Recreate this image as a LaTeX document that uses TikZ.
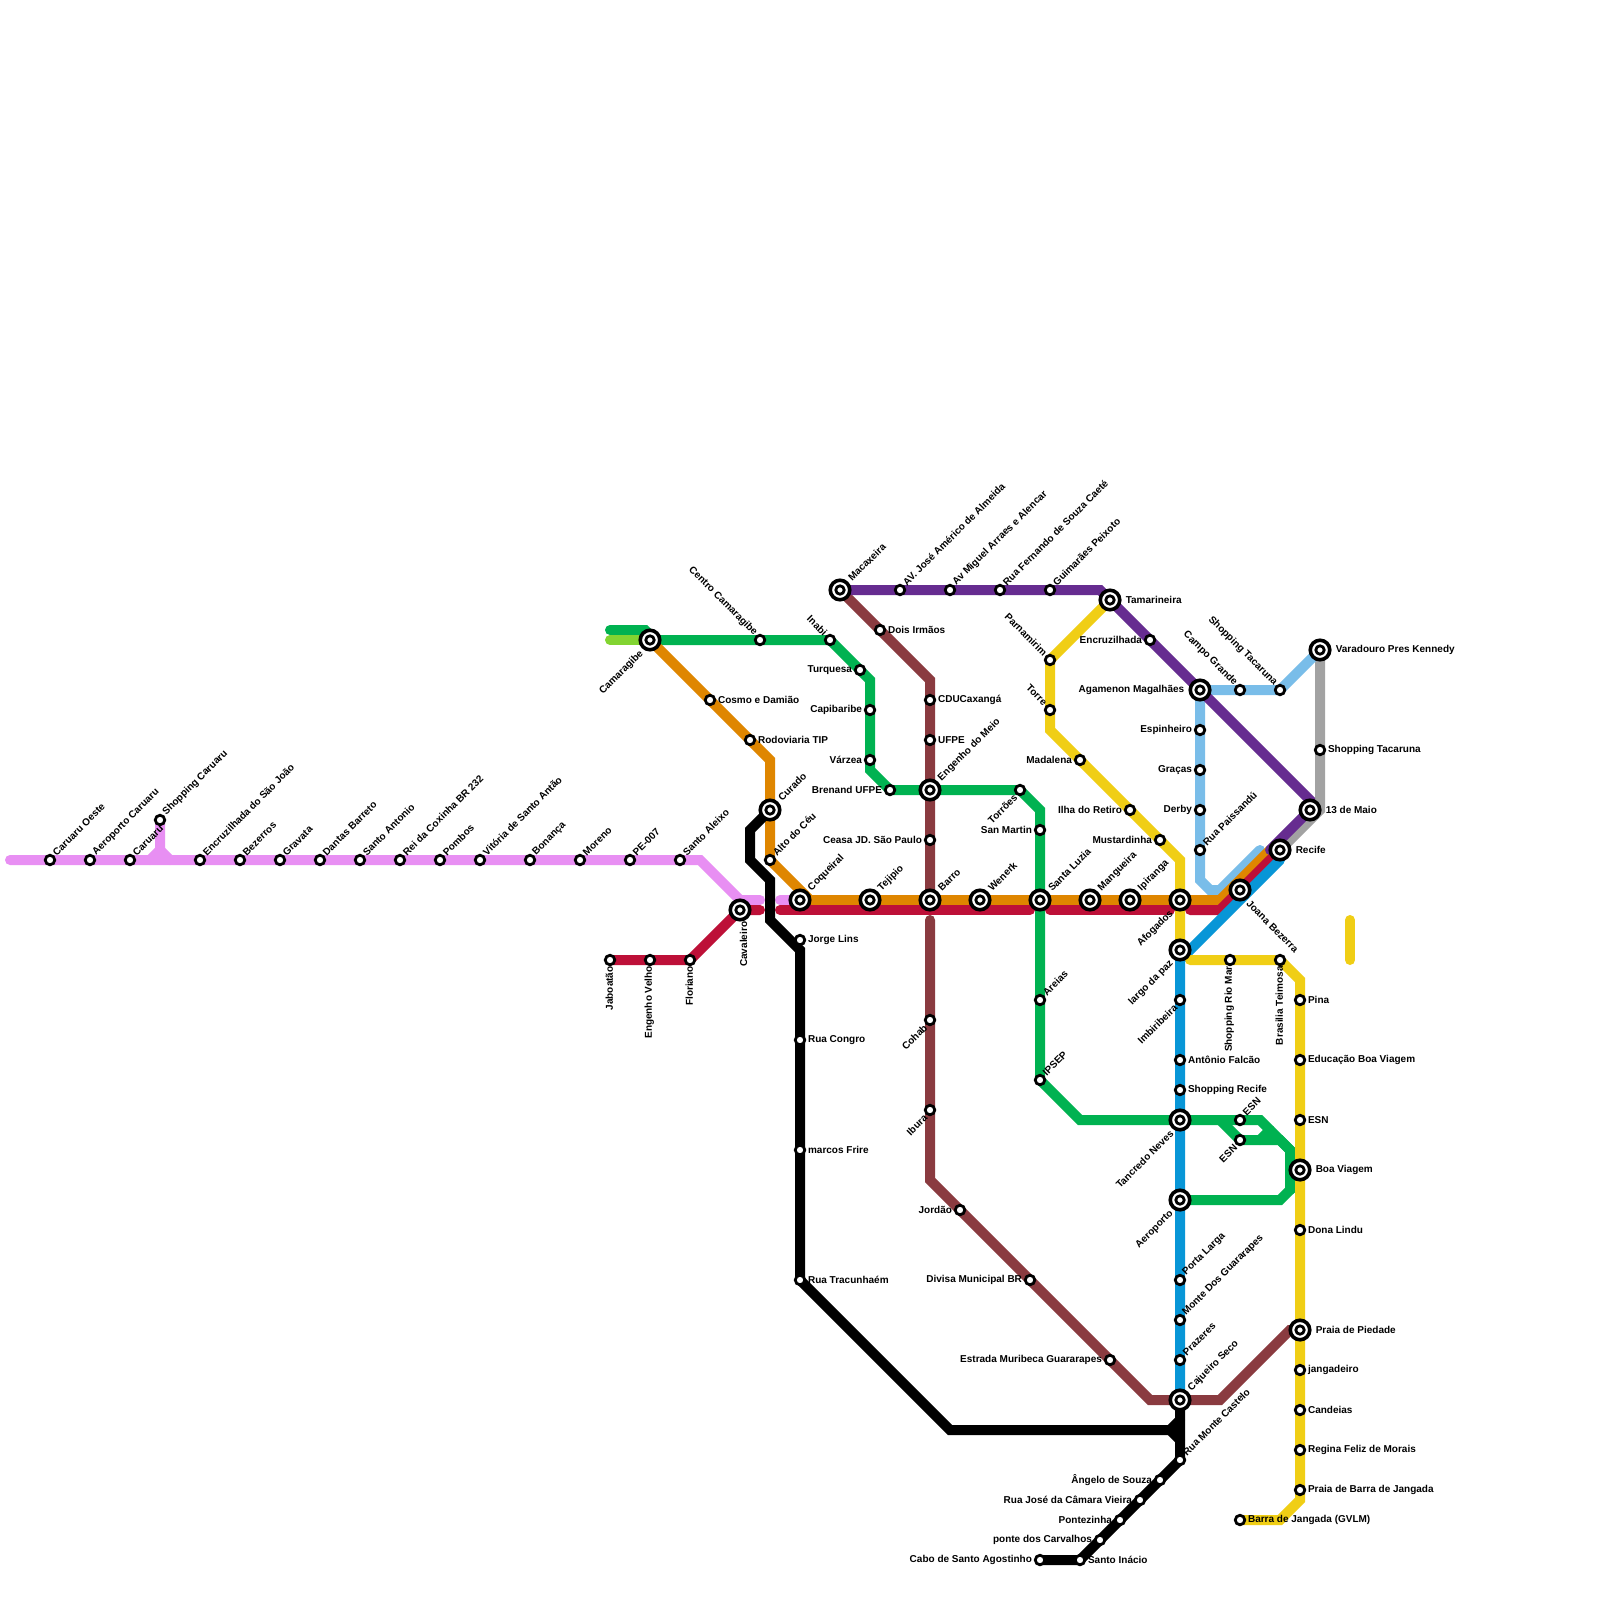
\documentclass[tikz,border=0pt]{standalone}
\usepackage{fontspec}
\setmainfont{Liberation Sans}
\usetikzlibrary{backgrounds}
\definecolor{pinkline}{HTML}{E88FF3}
\definecolor{greenline}{HTML}{00B251}
\definecolor{limeline}{HTML}{82D431}
\definecolor{orangeline}{HTML}{DF8600}
\definecolor{redline}{HTML}{BD1038}
\definecolor{brownline}{HTML}{8A3B40}
\definecolor{purpleline}{HTML}{662C90}
\definecolor{grayline}{HTML}{A2A2A2}
\definecolor{skyline}{HTML}{79BDE9}
\definecolor{blueline}{HTML}{0896D7}
\definecolor{yellowline}{HTML}{F0CE15}
\tikzset{
  lbl/.style={font=\fontsize{10}{12}\selectfont\bfseries, inner sep=0pt, label distance=1.7pt},
  lblne/.style={lbl, rotate=45, anchor=west},
  lblse/.style={lbl, rotate=-45, anchor=west},
  lblnw/.style={lbl, rotate=-45, anchor=east},
  lblsw/.style={lbl, rotate=45, anchor=east},
  lblr/.style={lbl, anchor=west},
  lbll/.style={lbl, anchor=east},
  lbld/.style={lbl, xshift=-2.5pt, rotate=90, anchor=east},
  far/.style={label distance=4pt},
  ne/.style={label={[lblne]45:#1}},
  se/.style={label={[lblse]-45:#1}},
  nw/.style={label={[lblnw]135:#1}},
  sw/.style={label={[lblsw]225:#1}},
  rt/.style={label={[lblr]0:#1}},
  lf/.style={label={[lbll]180:#1}},
  dn/.style={label={[lbld]270:#1}},
  xne/.style={label={[xshift=1.5pt, yshift=-1.5pt, lblne, far]45:#1}},
  xse/.style={label={[lblse, far]-45:#1}},
  xsw/.style={label={[lblsw, far]225:#1}},
  xrt/.style={label={[lblr, far]0:#1}},
  xlf/.style={label={[lbll, far]180:#1}},
  xdn/.style={label={[xshift=-2pt, lbld, label distance=8pt]270:#1}},
  stn/.style={circle, draw=black, fill=white, line width=2.8pt, minimum size=9.5pt, inner sep=0pt},
  xstn/.style={circle, draw=black, fill=white, line width=3.6pt, minimum size=19.5pt, inner sep=0pt,
    path picture={\draw[black, line width=2.8pt] (path picture bounding box.center) circle (4.2pt);}},
  metro/.style={line width=10pt, line cap=round, line join=miter},
}
\begin{document}
\begin{tikzpicture}[x=1pt, y=-1pt]
    \useasboundingbox (0,0) rectangle (1600,1600);

    % linha rosa
    \node[stn, ne={Caruaru Oeste}] (caruaruoeste) at (50,860) {};
    \node[stn, ne={Aeroporto Caruaru}] (aeroportocaruaru) at (90,860) {};
    \node[stn, ne={Caruaru}] (caruaru) at (130,860) {};
    \node[stn, ne={Shopping Caruaru}] (shopcaruaru) at (160,820) {};
    \node[stn, ne={Encruzilhada do São João}] (encsaojoao) at (200,860) {};
    \node[stn, ne={Bezerros}] (bezerros) at (240,860) {};
    \node[stn, ne={Gravata}] (gravata) at (280,860) {};
    \node[stn, ne={Dantas Barreto}] (dantas) at (320,860) {};
    \node[stn, ne={Santo Antonio}] (santoantonio) at (360,860) {};
    \node[stn, ne={Rei da Coxinha BR 232}] (reicoxinha) at (400,860) {};
    \node[stn, ne={Pombos}] (pombos) at (440,860) {};
    \node[stn, ne={Vitória de Santo Antão}] (vitoria) at (480,860) {};
    \node[stn, ne={Bonança}] (bonanca) at (530,860) {};
    \node[stn, ne={Moreno}] (moreno) at (580,860) {};
    \node[stn, ne={PE-007}] (pe007) at (630,860) {};
    \node[stn, ne={Santo Aleixo}] (santoaleixo) at (680,860) {};

    % linha vermelha
    \node[stn, dn={Jaboatão}] (jaboatao) at (610,960) {};
    \node[stn, dn={Engenho Velho}] (engvelho) at (650,960) {};
    \node[stn, dn={Floriano}] (floriano) at (690,960) {};
    \node[xstn, xdn={Cavaleiro}] (cavaleiro) at (740,910) {};

    % linha laranja
    \node[xstn, xsw={Camaragibe}] (camaragibe) at (650,640) {};
    \node[stn, rt={Cosmo e Damião}] (cosmo) at (710,700) {};
    \node[stn, rt={Rodoviaria TIP}] (rodoviaria) at (750,740) {};
    \node[xstn, xne={Curado}] (curado) at (770,810) {};
    \node[stn, ne={Alto do Céu}] (altoceu) at (770,860) {};
    \node[xstn, xne={Coqueiral}] (coqueiral) at (800,900) {};
    \node[xstn, xne={Tejipio}] (tejipio) at (870,900) {};
    \node[xstn, xne={Barro}] (barro) at (930,900) {};
    \node[xstn, xne={Wenerk}] (wenerk) at (980,900) {};
    \node[xstn, xne={Santa Luzia}] (santaluzia) at (1040,900) {};
    \node[xstn, xne={Mangueira}] (mangueira) at (1090,900) {};
    \node[xstn, xne={Ipiranga}] (ipiranga) at (1130,900) {};
    \node[xstn, xsw={Afogados}] (afogados) at (1180,900) {};
    \node[xstn, xse={Joana Bezerra}] (joana) at (1240,890) {};
    \node[xstn, xrt={Recife}] (recife) at (1280,850) {};

    % linha verde
    \node[stn, nw={Centro Camaragibe}] (centrocam) at (760,640) {};
    \node[stn, nw={Inabi}] (inabi) at (830,640) {};
    \node[stn, lf={Turquesa}] (turquesa) at (860,670) {};
    \node[stn, lf={Capibaribe}] (capibaribe) at (870,710) {};
    \node[stn, lf={Várzea}] (varzea) at (870,760) {};
    \node[stn, lf={Brenand UFPE}] (brenand) at (890,790) {};
    \node[xstn, xne={Engenho do Meio}] (engmeio) at (930,790) {};
    \node[stn, sw={Torrões}] (torroes) at (1020,790) {};
    \node[stn, lf={San Martin}] (sanmartin) at (1040,830) {};
    \node[stn, ne={Areias}] (areias) at (1040,1000) {};
    \node[stn, ne={IPSEP}] (ipsep) at (1040,1080) {};
    \node[xstn, xsw={Tancredo Neves}] (tancredo) at (1180,1120) {};
    \node[stn, ne={ESN}] (esnup) at (1240,1120) {};
    \node[stn, sw={ESN}] (esnlow) at (1240,1140) {};
    \node[xstn, xsw={Aeroporto}] (aeroporto) at (1180,1200) {};

    % linha preta
    \node[stn, rt={Jorge Lins}] (jorgelins) at (800,940) {};
    \node[stn, rt={Rua Congro}] (ruacongro) at (800,1040) {};
    \node[stn, rt={marcos Frire}] (marcosfrire) at (800,1150) {};
    \node[stn, rt={Rua Tracunhaém}] (tracunhaem) at (800,1280) {};
    \node[stn, ne={Rua Monte Castelo}] (montecastelo) at (1180,1460) {};
    \node[stn, lf={Ângelo de Souza}] (angelo) at (1160,1480) {};
    \node[stn, lf={Rua José da Câmara Vieira}] (ruajose) at (1140,1500) {};
    \node[stn, lf={Pontezinha}] (pontezinha) at (1120,1520) {};
    \node[stn, lf={ponte dos Carvalhos}] (ponte) at (1100,1540) {};
    \node[stn, rt={Santo Inácio}] (santoinacio) at (1080,1560) {};
    \node[stn, lf={Cabo de Santo Agostinho}] (cabo) at (1040,1560) {};

    % linha marrom
    \node[xstn, xne={Macaxeira}] (macaxeira) at (840,590) {};
    \node[stn, rt={Dois Irmãos}] (doisirmaos) at (880,630) {};
    \node[stn, rt={CDUCaxangá}] (cdu) at (930,700) {};
    \node[stn, rt={UFPE}] (ufpe) at (930,740) {};
    \node[stn, lf={Ceasa JD. São Paulo}] (ceasa) at (930,840) {};
    \node[stn, sw={Cohab}] (cohab) at (930,1020) {};
    \node[stn, sw={Ibura}] (ibura) at (930,1110) {};
    \node[stn, lf={Jordão}] (jordao) at (960,1210) {};
    \node[stn, lf={Divisa Municipal BR}] (divisa) at (1030,1280) {};
    \node[stn, lf={Estrada Muribeca Guararapes}] (muribeca) at (1110,1360) {};
    \node[xstn, xne={Cajueiro Seco}] (cajueiro) at (1180,1400) {};
    \node[xstn, xrt={Praia de Piedade}] (piedade) at (1300,1330) {};

    % linha roxa
    \node[stn, ne={AV. José Américo de Almeida}] (americo) at (900,590) {};
    \node[stn, ne={Av Miguel Arraes e Alencar}] (arraes) at (950,590) {};
    \node[stn, ne={Rua Fernando de Souza Caeté}] (caete) at (1000,590) {};
    \node[stn, ne={Guimarães Peixoto}] (guimaraes) at (1050,590) {};
    \node[xstn, xrt={Tamarineira}] (tamarineira) at (1110,600) {};
    \node[stn, lf={Encruzilhada}] (encruzilhada) at (1150,640) {};
    \node[xstn, xlf={Agamenon Magalhães}] (agamenon) at (1200,690) {};
    \node[xstn, xrt={13 de Maio}] (treze) at (1310,810) {};

    % linha azul clara e cinza
    \node[stn, nw={Campo Grande}] (campogrande) at (1240,690) {};
    \node[stn, nw={Shopping Tacaruna}] (shoptacaruna) at (1280,690) {};
    \node[xstn, xrt={Varadouro Pres Kennedy}] (varadouro) at (1320,650) {};
    \node[stn, rt={Shopping Tacaruna}] (tacaruna) at (1320,750) {};
    \node[stn, lf={Espinheiro}] (espinheiro) at (1200,730) {};
    \node[stn, lf={Graças}] (gracas) at (1200,770) {};
    \node[stn, lf={Derby}] (derby) at (1200,810) {};
    \node[stn, ne={Rua Paissandú}] (paissandu) at (1200,850) {};

    % linha amarela
    \node[stn, nw={Parnamirim}] (parnamirim) at (1050,660) {};
    \node[stn, nw={Torre}] (torre) at (1050,710) {};
    \node[stn, lf={Madalena}] (madalena) at (1080,760) {};
    \node[stn, lf={Ilha do Retiro}] (ilharetiro) at (1130,810) {};
    \node[stn, lf={Mustardinha}] (mustardinha) at (1160,840) {};
    \node[stn, dn={Shopping Rio Mar}] (riomar) at (1230,960) {};
    \node[stn, dn={Brasilia Teimosa}] (teimosa) at (1280,960) {};
    \node[stn, rt={Pina}] (pina) at (1300,1000) {};
    \node[stn, rt={Educação Boa Viagem}] (educacao) at (1300,1060) {};
    \node[stn, rt={ESN}] (esnyellow) at (1300,1120) {};
    \node[xstn, xrt={Boa Viagem}] (boaviagem) at (1300,1170) {};
    \node[stn, rt={Dona Lindu}] (donalindu) at (1300,1230) {};
    \node[stn, rt={jangadeiro}] (jangadeiro) at (1300,1370) {};
    \node[stn, rt={Candeias}] (candeias) at (1300,1410) {};
    \node[stn, rt={Regina Feliz de Morais}] (regina) at (1300,1450) {};
    \node[stn, rt={Praia de Barra de Jangada}] (barrapraia) at (1300,1490) {};
    \node[stn, rt={Barra de Jangada (GVLM)}] (barra) at (1240,1520) {};

    % linha azul
    \node[xstn, xsw={largo da paz}] (largo) at (1180,950) {};
    \node[stn, sw={Imbiribeira}] (imbiribeira) at (1180,1000) {};
    \node[stn, rt={Antônio Falcão}] (falcao) at (1180,1060) {};
    \node[stn, rt={Shopping Recife}] (shoprecife) at (1180,1090) {};
    \node[stn, ne={Porta Larga}] (portalarga) at (1180,1280) {};
    \node[stn, ne={Monte Dos Guararapes}] (guararapes) at (1180,1320) {};
    \node[stn, ne={Prazeres}] (prazeres) at (1180,1360) {};

    % pontos de curva
    \coordinate (pinkstart) at (10,860);
    \coordinate (pinkfork) at (160,850);
    \coordinate (pinkforkl) at (150,860);
    \coordinate (pinkforkr) at (170,860);
    \coordinate (pinkbend) at (700,860);
    \coordinate (pinkbendb) at (740,900);
    \coordinate (pinkendl) at (760,900);
    \coordinate (pinkendr) at (780,900);
    \coordinate (redendl) at (760,910);
    \coordinate (redstarta) at (780,910);
    \coordinate (redenda) at (1030,910);
    \coordinate (redstartb) at (1050,910);
    \coordinate (redendb) at (1170,910);
    \coordinate (redstartc) at (1190,910);
    \coordinate (redbend) at (1220,910);
    \coordinate (orangea) at (770,760);
    \coordinate (orangeb) at (810,900);
    \coordinate (orangec) at (1220,900);
    \coordinate (oranged) at (1270,850);
    \coordinate (greentopa) at (610,630);
    \coordinate (greentopb) at (645,630);
    \coordinate (greentopc) at (655,640);
    \coordinate (limestart) at (610,640);
    \coordinate (greena) at (870,680);
    \coordinate (greenb) at (870,770);
    \coordinate (greenc) at (1040,810);
    \coordinate (greend) at (1080,1120);
    \coordinate (greene) at (1260,1120);
    \coordinate (greenf) at (1300,1160);
    \coordinate (greeng) at (1290,1150);
    \coordinate (greenh) at (1280,1140);
    \coordinate (greeni) at (1220,1120);
    \coordinate (greenj) at (1260,1140);
    \coordinate (greenk) at (1270,1130);
    \coordinate (greenl) at (1290,1190);
    \coordinate (greenm) at (1280,1200);
    \coordinate (greenn) at (1300,1180);
    \coordinate (blacka) at (750,830);
    \coordinate (blackb) at (750,860);
    \coordinate (blackc) at (770,880);
    \coordinate (blackd) at (770,920);
    \coordinate (blacke) at (800,950);
    \coordinate (blackf) at (950,1430);
    \coordinate (blackg) at (1170,1430);
    \coordinate (blackh) at (1180,1420);
    \coordinate (blacki) at (1180,1440);
    \coordinate (browna) at (930,680);
    \coordinate (brownb) at (930,890);
    \coordinate (brownc) at (930,920);
    \coordinate (brownd) at (930,1180);
    \coordinate (browne) at (1150,1400);
    \coordinate (brownf) at (1220,1400);
    \coordinate (browng) at (1290,1330);
    \coordinate (purplea) at (1100,590);
    \coordinate (purpleb) at (1310,800);
    \coordinate (purplec) at (1270,850);
    \coordinate (graya) at (1320,810);
    \coordinate (skya) at (1200,880);
    \coordinate (skyb) at (1210,890);
    \coordinate (skyc) at (1220,890);
    \coordinate (skyd) at (1260,850);
    \coordinate (yellowa) at (1050,730);
    \coordinate (yellowb) at (1180,860);
    \coordinate (yellowc) at (1190,960);
    \coordinate (yellowd) at (1300,980);
    \coordinate (yellowe) at (1300,1500);
    \coordinate (yellowf) at (1280,1520);
    \coordinate (yellowg) at (1350,920);
    \coordinate (yellowh) at (1350,960);
    \coordinate (bluea) at (1180,960);
    \coordinate (blueb) at (1280,860);

    \begin{scope}[on background layer]
    \fill[white] (0,0) rectangle (1600,1600);
    \draw[metro, grayline] (varadouro.center) -- (tacaruna.center) -- (graya) -- (recife.center);
    \draw[metro, skyline] (agamenon.center) -- (espinheiro.center) -- (gracas.center) -- (derby.center) -- (paissandu.center) -- (skya) -- (skyb) -- (skyc) -- (skyd);
    \draw[metro, skyline] (agamenon.center) -- (campogrande.center) -- (shoptacaruna.center) -- (varadouro.center);
    \draw[metro, pinkline] (pinkstart) -- (caruaruoeste.center) -- (pinkbend) -- (pinkbendb) -- (pinkendl);
    \draw[metro, pinkline] (shopcaruaru.center) -- (pinkfork) -- (pinkforkl);
    \draw[metro, pinkline] (pinkfork) -- (pinkforkr);
    \draw[metro, pinkline] (pinkendr) -- (coqueiral.center);
    \draw[metro, greenline] (greentopa) -- (greentopb) -- (greentopc);
    \draw[metro, limeline] (limestart) -- (camaragibe.center);
    \draw[metro, greenline] (camaragibe.center) -- (inabi.center) -- (greena) -- (greenb) -- (brenand.center) -- (torroes.center) -- (greenc) -- (ipsep.center) -- (greend) -- (greene) -- (greenf);
    \draw[metro, greenline] (greeni) -- (esnlow.center) -- (greenh) -- (greeng) -- (greenl) -- (greenm) -- (aeroporto.center);
    \draw[metro, greenline] (greenj) -- (greenk);
    \draw[metro, greenline] (greenl) -- (greenn);
    \draw[metro, orangeline] (camaragibe.center) -- (orangea) -- (altoceu.center) -- (orangeb) -- (orangec) -- (oranged);
    \draw[metro, redline] (jaboatao.center) -- (floriano.center) -- (cavaleiro.center) -- (redendl);
    \draw[metro, redline] (redstarta) -- (redenda);
    \draw[metro, redline] (redstartb) -- (redendb);
    \draw[metro, redline] (redstartc) -- (redbend) -- (recife.center);
    \draw[metro, black] (curado.center) -- (blacka) -- (blackb) -- (blackc) -- (blackd) -- (blacke) -- (tracunhaem.center) -- (blackf) -- (blackg) -- (blackh);
    \draw[metro, black] (blackg) -- (blacki);
    \draw[metro, black] (cajueiro.center) -- (montecastelo.center) -- (santoinacio.center) -- (cabo.center);
    \draw[metro, brownline] (macaxeira.center) -- (browna) -- (brownb);
    \draw[metro, brownline] (brownc) -- (brownd) -- (browne) -- (brownf) -- (browng) -- (piedade.center);
    \draw[metro, purpleline] (macaxeira.center) -- (purplea) -- (purpleb) -- (treze.center) -- (purplec);
    \draw[metro, blueline] (cajueiro.center) -- (bluea) -- (blueb);
    \draw[metro, yellowline] (tamarineira.center) -- (parnamirim.center) -- (yellowa) -- (yellowb) -- (largo.center);
    \draw[metro, yellowline] (yellowc) -- (teimosa.center) -- (yellowd) -- (yellowe) -- (yellowf) -- (barra.center);
    \draw[metro, yellowline] (yellowg) -- (yellowh);
    \end{scope}
\end{tikzpicture}
\end{document}
